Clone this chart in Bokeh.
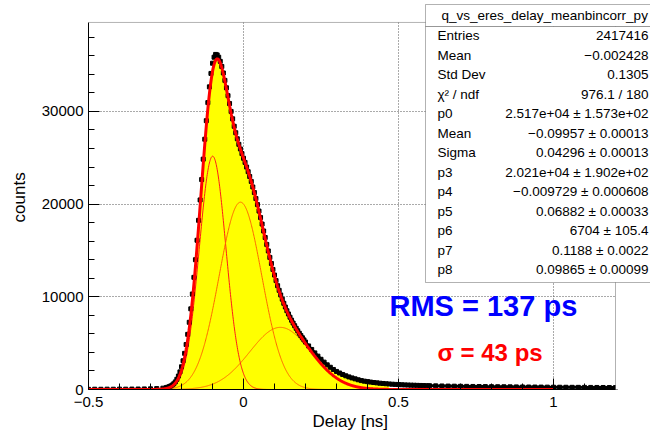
import numpy as np
from bokeh.plotting import figure
from bokeh.models import FixedTicker, Label, BoxAnnotation, Range1d, Title
from bokeh.embed import file_html
from bokeh.resources import INLINE

# ---- histogram (Delay [ns] -> counts) ----
delay_ns = [
    -0.50, -0.48, -0.46, -0.44, -0.42, -0.40, -0.38, -0.36, -0.34, -0.32, -0.30, -0.28, -0.26,
    -0.25, -0.245, -0.24, -0.235, -0.23, -0.225, -0.22, -0.215, -0.21, -0.205, -0.20,
    -0.195, -0.19, -0.185, -0.18, -0.175, -0.17, -0.165, -0.16, -0.155, -0.15,
    -0.145, -0.14, -0.135, -0.13, -0.125, -0.12, -0.115, -0.11, -0.105, -0.10,
    -0.095, -0.09, -0.085, -0.08, -0.075, -0.07, -0.065, -0.06, -0.055, -0.05,
    -0.045, -0.04, -0.035, -0.03, -0.025, -0.02, -0.015, -0.01, -0.005, 0.0,
    0.005, 0.01, 0.015, 0.02, 0.025, 0.03, 0.035, 0.04, 0.045, 0.05,
    0.055, 0.06, 0.065, 0.07, 0.075, 0.08, 0.085, 0.09, 0.095, 0.10,
    0.105, 0.11, 0.115, 0.12, 0.125, 0.13, 0.135, 0.14, 0.145, 0.15,
    0.155, 0.16, 0.165, 0.17, 0.175, 0.18, 0.185, 0.19, 0.195, 0.20,
    0.21, 0.22, 0.23, 0.24, 0.25, 0.26, 0.27, 0.28, 0.29, 0.30,
    0.31, 0.32, 0.33, 0.34, 0.35, 0.36, 0.37, 0.38, 0.39, 0.40,
    0.41, 0.42, 0.43, 0.44, 0.45, 0.46, 0.47, 0.48, 0.49, 0.50,
    0.51, 0.52, 0.53, 0.54, 0.55, 0.56, 0.57, 0.58, 0.59, 0.60,
    0.62, 0.64, 0.66, 0.68, 0.70, 0.72, 0.74, 0.76, 0.78, 0.80,
    0.82, 0.84, 0.86, 0.88, 0.90, 0.92, 0.94, 0.96, 0.98, 1.00,
    1.02, 1.04, 1.06, 1.08, 1.10, 1.12, 1.14, 1.16, 1.18, 1.20,
]
counts = [
    20, 30, 25, 35, 30, 40, 35, 45, 50, 60, 70, 95, 140,
    190, 240, 300, 380, 480, 620, 820, 1100, 1450, 1900, 2450,
    3100, 3900, 4850, 5950, 7250, 8700, 10300, 12100, 14000, 16100,
    18250, 20450, 22650, 24850, 27000, 29000, 30950, 32650, 34100, 35200,
    35850, 36150, 36100, 35850, 35400, 34850, 34150, 33350, 32550, 31700,
    30850, 30000, 29200, 28400, 27700, 27050, 26450, 25950, 25450, 24950,
    24500, 24000, 23500, 22980, 22450, 21850, 21250, 20600, 19950, 19250,
    18550, 17850, 17100, 16400, 15650, 14950, 14250, 13600, 12950, 12350,
    11750, 11200, 10700, 10200, 9750, 9300, 8900, 8500, 8150, 7800,
    7480, 7170, 6880, 6600, 6330, 6070, 5820, 5580, 5350, 5120,
    4700, 4320, 3950, 3600, 3260, 2950, 2660, 2400, 2160, 1950,
    1780, 1620, 1480, 1360, 1250, 1150, 1050, 960, 900, 850,
    800, 755, 715, 680, 650, 620, 595, 570, 550, 530,
    512, 496, 482, 470, 458, 446, 436, 426, 416, 408,
    392, 380, 368, 356, 346, 336, 328, 320, 312, 305,
    298, 292, 286, 280, 274, 268, 263, 258, 253, 248,
    244, 240, 236, 232, 228, 224, 220, 216, 212, 208,
]

# ---- fit parameters (from the stats box) ----
p0, mean1, sigma1 = 2.517e4, -0.09957, 0.04296
p3, p4, p5 = 2.021e4, -0.009729, 0.06882
p6, p7, p8 = 6704.0, 0.1188, 0.09865
fit_range = [-0.5, 1.0]
fill_range = [-0.25, 0.47]

stats_title = "q_vs_eres_delay_meanbincorr_py"
stats_labels = ["Entries", "Mean", "Std Dev", "\u03c7\u00b2 / ndf", "p0", "Mean", "Sigma",
                "p3", "p4", "p5", "p6", "p7", "p8"]
stats_values = ["2417416", "\u22120.002428", "0.1305", "976.1 / 180",
                "2.517e+04 \u00b1 1.573e+02", "\u22120.09957 \u00b1 0.00013",
                "0.04296 \u00b1 0.00013", "2.021e+04 \u00b1 1.902e+02",
                "\u22120.009729 \u00b1 0.000608", "0.06882 \u00b1 0.00033",
                "6704 \u00b1 105.4", "0.1188 \u00b1 0.0022", "0.09865 \u00b1 0.00099"]

x_title = "Delay [ns]"
y_title = "counts"
x_lo, x_hi = -0.5, 1.2          # histogram axis range
y_lo, y_hi = 0, 39600
x_ticks = [-0.5, 0, 0.5, 1]
x_minor = [-0.4, -0.3, -0.2, -0.1, 0.1, 0.2, 0.3, 0.4, 0.6, 0.7, 0.8, 0.9, 1.1]
y_ticks = [0, 10000, 20000, 30000]
y_minor = [2000, 4000, 6000, 8000, 12000, 14000, 16000, 18000, 22000, 24000,
           26000, 28000, 32000, 34000, 36000, 38000]

FONT = "Liberation Sans"
NBSP = "\u00a0"

# pixel geometry of the ROOT pad (page coordinates)
PAD_L, PAD_R, PAD_T, PAD_B = 88, 615, 22, 390
W, H = 650, 430
px_per_x = (PAD_R - PAD_L) / (x_hi - x_lo)
px_per_y = (PAD_B - PAD_T) / (y_hi - y_lo)
# the drawing frame is extended to the window's top/right edge so that the
# stats box (which overflows the pad, as in ROOT) can be drawn there
frame_x_end = x_hi + (W - PAD_R) / px_per_x
frame_y_end = y_hi + PAD_T / px_per_y

x = np.array(delay_ns)
y = np.array(counts, dtype=float)

xf = np.linspace(fit_range[0], fit_range[1], 1501)
g1 = p0 * np.exp(-0.5 * ((xf - mean1) / sigma1) ** 2)
g2 = p3 * np.exp(-0.5 * ((xf - p4) / p5) ** 2)
g3 = p6 * np.exp(-0.5 * ((xf - p7) / p8) ** 2)
total = g1 + g2 + g3

p = figure(width=W, height=H, x_range=Range1d(x_lo, frame_x_end),
           y_range=Range1d(y_lo, frame_y_end), title=None,
           output_backend="svg", toolbar_location=None,
           min_border_left=PAD_L, min_border_right=0, min_border_top=0,
           min_border_bottom=H - PAD_B)
p.background_fill_color = "white"
p.border_fill_color = "white"
p.outline_line_color = None

for ax, ticks, minor, bnds in ((p.xaxis[0], x_ticks, x_minor, (x_lo, x_hi)),
                               (p.yaxis[0], y_ticks, y_minor, (y_lo, y_hi))):
    ax.ticker = FixedTicker(ticks=ticks, minor_ticks=minor)
    ax.bounds = bnds
    ax.major_tick_in = 11
    ax.major_tick_out = 0
    ax.minor_tick_in = 6
    ax.minor_tick_out = 0
    ax.axis_line_color = "black"
    ax.major_tick_line_color = "black"
    ax.minor_tick_line_color = "black"
    ax.major_label_text_font = FONT
    ax.major_label_text_font_size = "15px"
    ax.major_label_text_color = "black"
    ax.axis_label_text_font = FONT
    ax.axis_label_text_font_size = "17px"
    ax.axis_label_text_font_style = "normal"
    ax.axis_label_text_color = "black"

p.xaxis.major_label_overrides = {-0.5: "\u22120.5", 0: "0", 0.5: "0.5", 1: "1"}
p.xaxis.major_label_standoff = 7
# x title placed like ROOT's (left edge at page x = 312, below the tick labels)
p.add_layout(Title(text=x_title, align="left", offset=312 - PAD_L, vertical_align="bottom",
                   standoff=0, text_font=FONT, text_font_size="17px",
                   text_font_style="normal", text_color="black"), "below")
# a trailing no-break space nudges the centred y title to the centre of the ROOT pad
p.yaxis.axis_label = y_title + NBSP
p.yaxis.major_label_standoff = 5
p.yaxis.axis_label_standoff = 10

p.xgrid.ticker = FixedTicker(ticks=[0, 0.5, 1])
p.ygrid.ticker = FixedTicker(ticks=[10000, 20000, 30000])
for g in (p.xgrid[0], p.ygrid[0]):
    g.grid_line_color = "#555555"
    g.grid_line_dash = "1 2"
    g.grid_line_width = 1

mask = (x >= fill_range[0]) & (x <= fill_range[1])
p.varea(x=x[mask], y1=np.zeros(mask.sum()), y2=y[mask], fill_color="#ffff00")

p.line(xf, g1, line_color="#ff1a1a", line_width=1)
p.line(xf, g2, line_color="#ff6600", line_width=1)
p.line(xf, g3, line_color="#ff6600", line_width=1)

tail = x >= 0.15
p.line(x[tail], y[tail], line_color="black", line_width=3)
p.scatter(x, y, marker="square", size=4, color="black")

p.line(xf, total, line_color="#ff0000", line_width=3)

# white margins outside the ROOT pad, then the pad border
p.add_layout(BoxAnnotation(bottom=y_hi, fill_color="white", fill_alpha=1, line_color=None))
p.add_layout(BoxAnnotation(left=x_hi, fill_color="white", fill_alpha=1, line_color=None))
p.add_layout(BoxAnnotation(left=x_lo, right=x_hi, bottom=y_lo, top=y_hi, fill_alpha=0,
                           line_color="black", line_width=1))

# ---- stats box (screen units relative to the frame's bottom-left) ----


def sx(px):
    return px - PAD_L


def sy(py):
    return PAD_B - py


box_kw = dict(left_units="screen", right_units="screen", top_units="screen",
              bottom_units="screen", fill_color="white", fill_alpha=1,
              line_color="black", line_width=1)
p.add_layout(BoxAnnotation(left=sx(425), right=sx(720), top=sy(5), bottom=sy(27), **box_kw))
p.add_layout(BoxAnnotation(left=sx(425), right=sx(720), top=sy(27), bottom=sy(283), **box_kw))
p.add_layout(Label(x=sx(441), y=sy(16), x_units="screen", y_units="screen", text=stats_title,
                   text_font=FONT, text_font_size="13.5px", text_baseline="middle",
                   text_align="left", text_color="black"))
for i, (lab, val) in enumerate(zip(stats_labels, stats_values)):
    yy = sy(36 + 19.5 * i)
    p.add_layout(Label(x=sx(437), y=yy, x_units="screen", y_units="screen", text=lab,
                       text_font=FONT, text_font_size="13.5px", text_baseline="middle",
                       text_align="left", text_color="black"))
    p.add_layout(Label(x=sx(648), y=yy, x_units="screen", y_units="screen", text=val,
                       text_font=FONT, text_font_size="13.5px", text_baseline="middle",
                       text_align="right", text_color="black"))

p.add_layout(Label(x=sx(389), y=sy(306), x_units="screen", y_units="screen",
                   text="RMS = 137 ps", text_font=FONT, text_font_size="29px",
                   text_font_style="bold", text_color="#0000ff", text_baseline="middle"))
p.add_layout(Label(x=sx(437), y=sy(353), x_units="screen", y_units="screen",
                   text="\u03c3 = 43 ps", text_font=FONT, text_font_size="24px",
                   text_font_style="bold", text_color="#ff0000", text_baseline="middle"))

open("out.html", "w").write(file_html(p, INLINE))
